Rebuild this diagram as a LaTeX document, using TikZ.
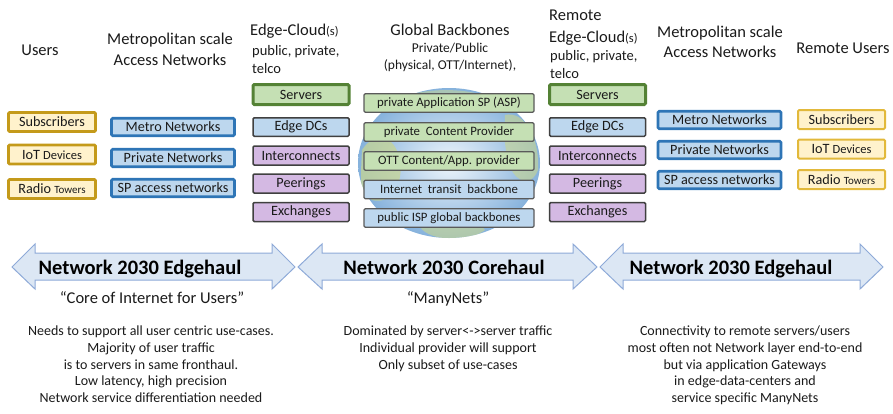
\documentclass[tikz,border=0pt]{standalone}
\usepackage{fontspec}
\setmainfont{Carlito}
\usetikzlibrary{shapes.geometric}

\definecolor{golddraw}{HTML}{C49A1A}
\definecolor{goldfill}{HTML}{FFF2CC}
\definecolor{goldlight}{HTML}{E2B93B}
\definecolor{bluedraw}{HTML}{2E75B6}
\definecolor{bluefill}{HTML}{BDD7EE}
\definecolor{greendraw}{HTML}{548235}
\definecolor{greenfill}{HTML}{C5E0B4}
\definecolor{purplefill}{HTML}{D4B9E3}
\definecolor{darkline}{HTML}{404040}
\definecolor{grayline}{HTML}{5A5A5A}
\definecolor{arrowfill}{HTML}{DCE7F4}
\definecolor{arrowdraw}{HTML}{8EAAD8}
\definecolor{oceanout}{HTML}{86B2DC}
\definecolor{oceanin}{HTML}{EEF5FB}
\definecolor{land}{HTML}{C9D68E}
\definecolor{textcol}{HTML}{1A1A1A}

\newcommand\hdfont{\fontsize{16.5}{19}\selectfont}
\newcommand\subhdfont{\fontsize{14.5}{17}\selectfont}
\newcommand\smallhdfont{\fontsize{13.5}{16}\selectfont}
\newcommand\bxfont{\fontsize{14.2}{16}\selectfont}
\newcommand\bbfont{\fontsize{12.8}{15}\selectfont}
\newcommand\arrfont{\fontsize{20.5}{24}\selectfont\bfseries}
\newcommand\quotefont{\fontsize{16.5}{19}\selectfont}
\newcommand\bodyfont{\fontsize{14}{16.6}\selectfont}
\newcommand\tinyword[1]{{\fontsize{11}{12}\selectfont #1}}
\newcommand\midword[1]{{\fontsize{12.5}{13}\selectfont #1}}

\tikzset{
  basebox/.style={rectangle, rounded corners=1.2pt, inner sep=0pt, align=center, text=textcol},
  userbox/.style={basebox, font=\bxfont, draw=golddraw, fill=goldfill, line width=2.8pt,
                  minimum width=87pt, minimum height=19pt},
  ruserbox/.style={basebox, font=\bxfont, draw=goldlight, fill=goldfill, line width=2pt,
                  minimum width=87pt, minimum height=19pt},
  metrobox/.style={basebox, font=\bxfont, draw=bluedraw, fill=bluefill, line width=2.6pt,
                  minimum width=123pt, minimum height=17.5pt},
  serverbox/.style={basebox, font=\bxfont, draw=greendraw, fill=greenfill, line width=3pt,
                  minimum width=96pt, minimum height=20pt},
  dcbox/.style={basebox, font=\bxfont, draw=darkline, fill=bluefill, line width=1.5pt,
                  minimum width=96pt, minimum height=18.5pt},
  ixbox/.style={basebox, font=\bxfont, draw=darkline, fill=purplefill, line width=1.5pt,
                  minimum width=96pt, minimum height=19pt},
  bbgreen/.style={basebox, font=\bbfont, draw=grayline, fill=greenfill, line width=1.3pt,
                  minimum width=170pt, minimum height=18.5pt},
  bbblue/.style={basebox, font=\bbfont, draw=grayline, fill=bluefill, line width=1.3pt,
                  minimum width=170pt, minimum height=18.5pt},
  header/.style={inner sep=0pt, font=\hdfont, text=textcol, anchor=base},
  headerwest/.style={header, anchor=base west},
  hauls/.style={draw=arrowdraw, line width=1pt, fill=arrowfill, line join=miter},
  haultext/.style={inner sep=0pt, font=\arrfont, text=black, anchor=base},
  quote/.style={inner sep=0pt, font=\quotefont, text=textcol, anchor=base},
  bodytext/.style={inner sep=0pt, font=\bodyfont, text=textcol, align=center, anchor=north},
}

\begin{document}
\begin{tikzpicture}[x=1pt, y=-1pt]
\useasboundingbox (0,0) rectangle (893,413);

% ---------- globe behind the backbone list ----------
\begin{scope}
  \clip (449,163) ellipse [x radius=91, y radius=75];
  \shade[inner color=oceanin, outer color=oceanout] (449,163) ellipse [x radius=91, y radius=75];
  \fill[land, opacity=0.7] (362,150) .. controls (375,130) and (395,135) .. (400,160)
        .. controls (404,185) and (390,205) .. (372,200) .. controls (360,190) .. (362,150);
  \fill[land, opacity=0.6] (420,227) .. controls (440,207) and (470,210) .. (485,230)
        .. controls (470,242) and (430,242) .. (420,227);
  \fill[land, opacity=0.6] (505,115) .. controls (525,110) and (540,140) .. (538,170)
        .. controls (530,190) and (512,180) .. (508,160) .. controls (504,140) .. (505,115);
  \fill[land, opacity=0.5] (410,95) .. controls (430,88) and (470,88) .. (490,98)
        .. controls (470,108) and (430,108) .. (410,95);
\end{scope}

% ---------- column headers ----------
\node[header] (hUsers) at (40,55.5) {Users};
\node[header] (hMetroA) at (170,44.5) {Metropolitan scale};
\node[header] (hMetroB) at (170,65.5) {Access Networks};

\node[headerwest] (hEdgeA) at (250,35.5) {Edge-Cloud\midword{(s)}};
\node[headerwest, font=\subhdfont] (hEdgeB) at (252,55) {public, private,};
\node[headerwest, font=\subhdfont] (hEdgeC) at (252,73) {telco};

\node[header] (hGlobA) at (450,35.5) {Global Backbones};
\node[header, font=\smallhdfont] (hGlobB) at (450,52.5) {Private/Public};
\node[header, font=\smallhdfont] (hGlobC) at (450,69.5) {(physical, OTT/Internet),};

\node[headerwest] (hREdgeA) at (549,20.5) {Remote};
\node[headerwest] (hREdgeB) at (549,42) {Edge-Cloud\midword{(s)}};
\node[headerwest, font=\subhdfont] (hREdgeC) at (550,60) {public, private,};
\node[headerwest, font=\subhdfont] (hREdgeD) at (550,78) {telco};

\node[header] (hRMetroA) at (720,37.5) {Metropolitan scale};
\node[header] (hRMetroB) at (720,57.5) {Access Networks};
\node[header] (hRUsers) at (843,53.5) {Remote Users};

% ---------- users ----------
\node[userbox] (uSub) at (52,122) {Subscribers};
\node[userbox] (uIoT) at (52,154.5) {IoT \midword{Devices}};
\node[userbox] (uRadio) at (52,189) {Radio \tinyword{Towers}};

% ---------- metro access ----------
\node[metrobox] (mMetro) at (173,127) {Metro Networks};
\node[metrobox] (mPriv) at (173,158) {Private Networks};
\node[metrobox] (mSP) at (173,188) {SP access networks};

% ---------- edge cloud ----------
\node[serverbox] (eServ) at (301,94.5) {Servers};
\node[dcbox] (eDC) at (301,127) {Edge DCs};
\node[ixbox] (eInt) at (301,155.5) {Interconnects};
\node[ixbox] (ePeer) at (301,183.5) {Peerings};
\node[ixbox] (eExch) at (301,212) {Exchanges};

% ---------- global backbones ----------
\node[bbgreen] (bASP) at (449,103) {private Application SP (ASP)};
\node[bbgreen] (bCP) at (449,132) {private\ \ Content Provider};
\node[bbgreen] (bOTT) at (449,161) {OTT Content/App. provider};
\node[bbblue] (bTransit) at (449,189.5) {Internet\ \ transit\ \ backbone};
\node[bbblue] (bISP) at (449,218) {public ISP global backbones};

% ---------- remote edge cloud ----------
\node[serverbox] (rServ) at (597.5,94.5) {Servers};
\node[dcbox] (rDC) at (597.5,127) {Edge DCs};
\node[ixbox] (rInt) at (597.5,155.5) {Interconnects};
\node[ixbox] (rPeer) at (597.5,183.5) {Peerings};
\node[ixbox] (rExch) at (597.5,212) {Exchanges};

% ---------- remote metro access ----------
\node[metrobox] (rmMetro) at (719.5,120) {Metro Networks};
\node[metrobox] (rmPriv) at (719.5,150) {Private Networks};
\node[metrobox] (rmSP) at (719.5,180) {SP access networks};

% ---------- remote users ----------
\node[ruserbox] (ruSub) at (841.5,119.5) {Subscribers};
\node[ruserbox] (ruIoT) at (841.5,149) {IoT \midword{Devices}};
\node[ruserbox] (ruRadio) at (841.5,179.5) {Radio \tinyword{Towers}};

% ---------- haul arrows ----------
\draw[hauls] (12,267) -- (35,244) -- (35,253) -- (272,253) -- (272,244) -- (295,267)
  -- (272,289) -- (272,280) -- (35,280) -- (35,289) -- cycle;
\draw[hauls] (298,267) -- (322,244) -- (322,253) -- (573,253) -- (573,244) -- (597,267)
  -- (573,289) -- (573,280) -- (322,280) -- (322,289) -- cycle;
\draw[hauls] (600,267) -- (623,244) -- (623,253) -- (860,253) -- (860,244) -- (883,267)
  -- (860,289) -- (860,280) -- (623,280) -- (623,289) -- cycle;

\node[haultext] (tEdgeL) at (140,274) {Network 2030 Edgehaul};
\node[haultext] (tCore) at (444,274) {Network 2030 Corehaul};
\node[haultext] (tEdgeR) at (731,274) {Network 2030 Edgehaul};

% ---------- quotes and notes ----------
\node[quote] (qL) at (152,303.5) {“Core of Internet for Users”};
\node[quote] (qM) at (448,303.5) {“ManyNets”};

\node[bodytext] (nL) at (151,326) {Needs to support all user centric use-cases.\\
  Majority of user traffic\\ is to servers in same fronthaul.\\
  Low latency, high precision\\ Network service differentiation needed};
\node[bodytext] (nM) at (448,326) {Dominated by server<->server traffic\\
  Individual provider will support\\ Only subset of use-cases};
\node[bodytext] (nR) at (745,326) {Connectivity to remote servers/users\\
  most often not Network layer end-to-end\\ but via application Gateways\\
  in edge-data-centers and\\ service specific ManyNets};
\end{tikzpicture}
\end{document}
